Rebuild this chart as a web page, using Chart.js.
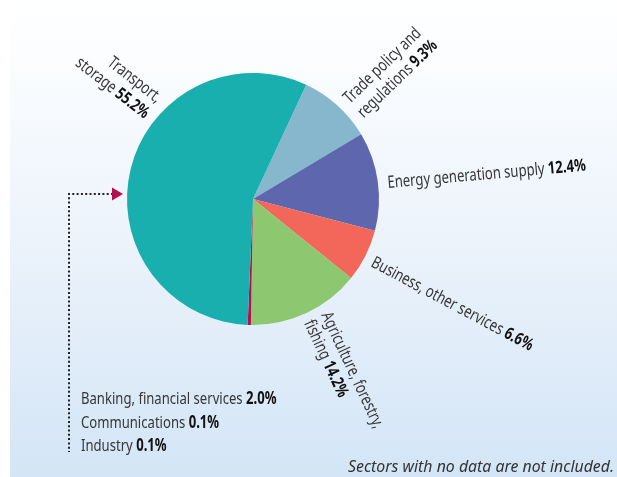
<!DOCTYPE html>
<html>
<head>
<meta charset="utf-8">
<script src="https://cdn.jsdelivr.net/npm/chart.js@4.4.1/dist/chart.umd.min.js"></script>
<style>
  html, body { margin: 0; padding: 0; background: #ffffff; }
  #wrap { position: relative; width: 617px; height: 477px; }
  canvas { display: block; }
</style>
</head>
<body>
<div id="wrap"><canvas id="c" width="617" height="477"></canvas></div>
<script>
// ---- data ----
const sliceNames = ['Trade policy and regulations', 'Energy generation supply', 'Business, other services',
                    'Agriculture, forestry, fishing', 'Banking, communications, industry', 'Transport, storage'];
// slice sizes as drawn in the picture (the three small sectors appear as one thin sliver)
const sliceValues = [9.3, 12.4, 6.6, 14.2, 0.4, 55.2];
const sliceColors = ['#86b7cd', '#5e66ae', '#f2675a', '#8dc76f', '#b3114f', '#1aafaf'];
// label texts: [normal part, bold part] per line
const sliceLabels = [
  [['Trade policy and', ''], ['regulations ', '9.3%']],
  [['Energy generation supply ', '12.4%']],
  [['Business, other services ', '6.6%']],
  [['Agriculture, forestry,', ''], ['fishing ', '14.2%']],
  null,
  [['Transport,', ''], ['storage ', '55.2%']]
];
const smallSectors = ['Banking, financial services ', 'Communications ', 'Industry '];
const smallShares = ['2.0%', '0.1%', '0.1%'];
const footnote = 'Sectors with no data are not included.';

// ---- label layout (style) ----
const FONT = '"Noto Sans", "Open Sans", sans-serif';
const FSIZE = 17;
const labelLayout = [
  { angle: 45.6, dist: 135.5, rot: -44, align: 'left', lh: 20 },
  { angle: 85.3, dist: 135.4, rot: -5, align: 'left', lh: 19 },
  { angle: 119.8, dist: 134.8, rot: 28, align: 'left', lh: 19 },
  { angle: 149.6, dist: 134.5, rot: 65, align: 'left', lh: 19 },
  null,
  { angle: 314.7, dist: 136, rot: 38, align: 'right', lh: 20 }
];
let SX = 0.78; // horizontal condensing, recomputed below

function measureMixed(ctx, parts, size) {
  ctx.font = size + 'px ' + FONT; const wN = ctx.measureText(parts[0]).width;
  ctx.font = 'bold ' + size + 'px ' + FONT; const wB = parts[1] ? ctx.measureText(parts[1]).width : 0;
  return [wN, wB];
}

function drawMixed(ctx, parts, x, y, align, size) {
  const [wN, wB] = measureMixed(ctx, parts, size);
  ctx.save();
  ctx.translate(x, y);
  ctx.scale(SX, 1);
  const sx = align === 'right' ? -(wN + wB) : 0;
  ctx.textAlign = 'left';
  ctx.textBaseline = 'alphabetic';
  ctx.font = size + 'px ' + FONT; ctx.fillStyle = '#363636'; ctx.fillText(parts[0], sx, 0);
  if (parts[1]) { ctx.font = 'bold ' + size + 'px ' + FONT; ctx.fillStyle = '#111111'; ctx.fillText(parts[1], sx + wN, 0); }
  ctx.restore();
}

const bgPlugin = {
  id: 'bg',
  beforeDraw(chart) {
    const ctx = chart.ctx, W = chart.width, H = chart.height;
    ctx.save();
    ctx.fillStyle = '#ffffff'; ctx.fillRect(0, 0, W, H);
    const g = ctx.createLinearGradient(0, 0, 0, H);
    g.addColorStop(0, '#ffffff');
    g.addColorStop(0.12, '#fbfdff');
    g.addColorStop(0.5, '#ecf3fb');
    g.addColorStop(1, '#d3e5f6');
    ctx.fillStyle = g; ctx.fillRect(10, 0, W - 10, H);
    ctx.restore();
  }
};

const labelPlugin = {
  id: 'labels',
  afterDatasetsDraw(chart) {
    const ctx = chart.ctx;
    // condensing factor so that the energy label spans ~199px as in the reference
    const m = measureMixed(ctx, sliceLabels[1][0], FSIZE);
    SX = 199 / (m[0] + m[1]);
    const meta = chart.getDatasetMeta(0);
    const arc0 = meta.data[0];
    const cx = arc0.x, cy = arc0.y, R = arc0.outerRadius;
    ctx.save();
    sliceLabels.forEach((lines, i) => {
      if (!lines) return;
      const L = labelLayout[i];
      const a = L.angle * Math.PI / 180;
      const ax = cx + L.dist * Math.sin(a), ay = cy - L.dist * Math.cos(a);
      ctx.save();
      ctx.translate(ax, ay);
      ctx.rotate(L.rot * Math.PI / 180);
      lines.forEach((parts, j) => drawMixed(ctx, parts, 0, j * L.lh, L.align, FSIZE));
      ctx.restore();
    });

    // dotted connector with arrow to the small sectors list
    const tipX = cx - R - 4, tipY = cy - 5;
    const lineX = cx - R - 58;
    const bottomY = cy + 253;
    ctx.strokeStyle = '#222222';
    ctx.lineWidth = 2;
    ctx.setLineDash([2, 2.3]);
    ctx.beginPath();
    ctx.moveTo(tipX - 10, tipY);
    ctx.lineTo(lineX, tipY);
    ctx.lineTo(lineX, bottomY);
    ctx.stroke();
    ctx.setLineDash([]);
    ctx.fillStyle = sliceColors[4];
    ctx.beginPath();
    ctx.moveTo(tipX, tipY);
    ctx.lineTo(tipX - 11, tipY - 6.5);
    ctx.lineTo(tipX - 11, tipY + 6.5);
    ctx.closePath();
    ctx.fill();

    // small sectors list
    smallSectors.forEach((s, k) => {
      drawMixed(ctx, [s, smallShares[k]], lineX + 12, cy + 205 + k * 23.5, 'left', FSIZE);
    });

    // footnote (italic), spanning ~266px, right-aligned
    ctx.font = 'italic ' + FSIZE + 'px ' + FONT;
    const wf = ctx.measureText(footnote).width;
    const fsx = 266 / wf;
    ctx.save();
    ctx.translate(614, 472);
    ctx.scale(fsx, 1);
    ctx.fillStyle = '#333333';
    ctx.textAlign = 'right';
    ctx.fillText(footnote, 0, 0);
    ctx.restore();
    ctx.restore();
  }
};

new Chart(document.getElementById('c'), {
  type: 'pie',
  data: {
    labels: sliceNames,
    datasets: [{ data: sliceValues, backgroundColor: sliceColors, borderWidth: 0, hoverOffset: 0 }]
  },
  options: {
    responsive: false,
    animation: false,
    rotation: 25,
    layout: { padding: { left: 127, right: 238, top: 73, bottom: 152 } },
    plugins: { legend: { display: false }, tooltip: { enabled: false } }
  },
  plugins: [bgPlugin, labelPlugin]
});
</script>
</body>
</html>
